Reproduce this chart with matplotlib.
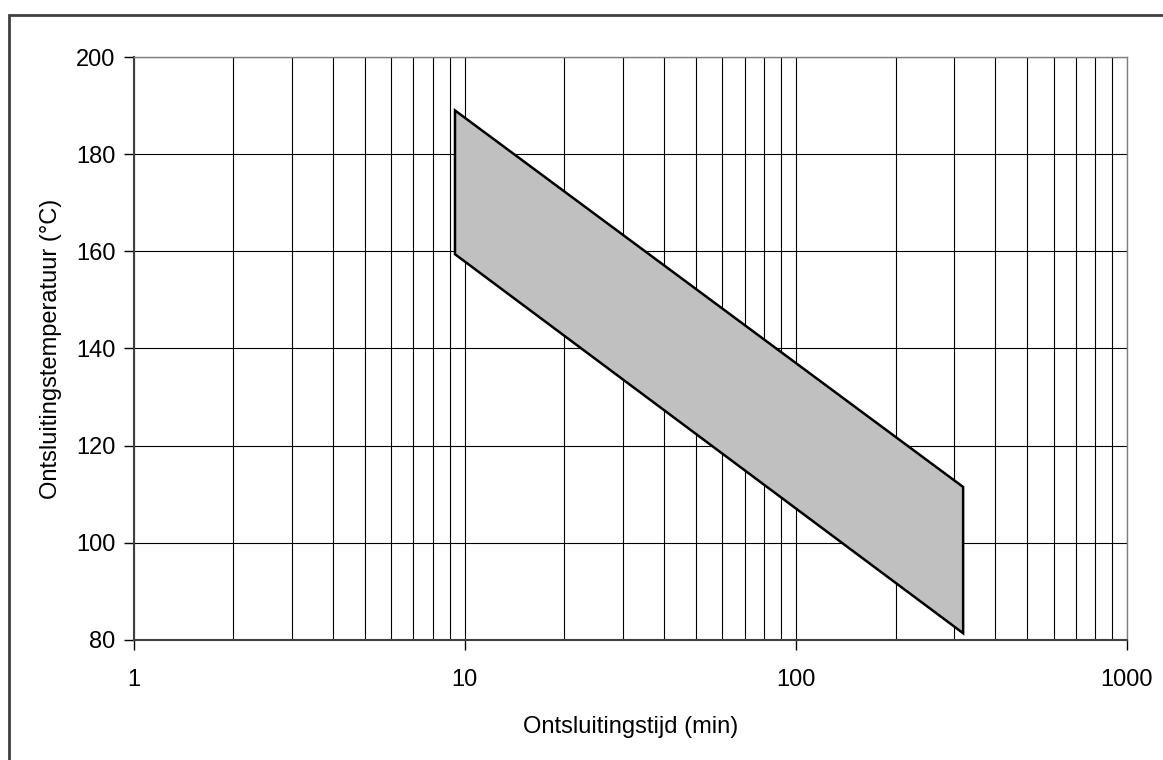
import matplotlib
matplotlib.use("Agg")
import matplotlib.pyplot as plt
from matplotlib.patches import Rectangle
from matplotlib.ticker import LogLocator, NullFormatter, FixedLocator

plt.rcParams['font.family'] = ['Liberation Sans', 'DejaVu Sans']

# band corners
tijd = [9.35, 9.35, 320, 320]            # min
temp = [189.0, 159.4, 81.4, 111.5]       # degC
x_ticks = [1, 10, 100, 1000]
x_labels = ['1', '10', '100', '1000']
y_ticks = [80, 100, 120, 140, 160, 180, 200]

fig = plt.figure(figsize=(11.63, 7.6), dpi=100)
ax = fig.add_axes([133.5/1163, 120/760, (1127-133.5)/1163, (640-57)/760])

ax.fill(tijd, temp, facecolor='#c0c0c0', edgecolor='black', linewidth=1.8, zorder=3)

ax.set_xscale('log')
ax.set_xlim(1, 1000)
ax.set_ylim(80, 200)
ax.xaxis.set_major_locator(FixedLocator(x_ticks))
ax.set_xticklabels(x_labels)
ax.xaxis.set_minor_locator(LogLocator(base=10, subs=range(2, 10)))
ax.xaxis.set_minor_formatter(NullFormatter())
ax.set_yticks(y_ticks)

ax.grid(True, which='both', axis='x', color='black', linewidth=0.8)
ax.grid(True, which='major', axis='y', color='black', linewidth=0.8)
ax.set_axisbelow(True)

ax.tick_params(axis='both', which='major', direction='out', length=7, width=1,
               labelsize=17, pad=6)
ax.tick_params(axis='x', which='major', pad=14)
ax.tick_params(axis='x', which='minor', length=0)

for side in ['left', 'bottom']:
    ax.spines[side].set_color('#404040')
    ax.spines[side].set_linewidth(1.5)
for side in ['top', 'right']:
    ax.spines[side].set_color('#808080')
    ax.spines[side].set_linewidth(1.0)

ax.set_xlabel('Ontsluitingstijd (min)', fontsize=17, labelpad=18)
ax.set_ylabel('Ontsluitingstemperatuur (°C)', fontsize=17, labelpad=10)

# outer chart frame (only left and top edges fall inside the image)
fig.patches.append(Rectangle((8.5/1163, -0.1), 1.2, (760-15)/760 + 0.1,
                             transform=fig.transFigure, fill=False,
                             edgecolor='#404040', linewidth=2))

fig.savefig('out.png', dpi=100)
